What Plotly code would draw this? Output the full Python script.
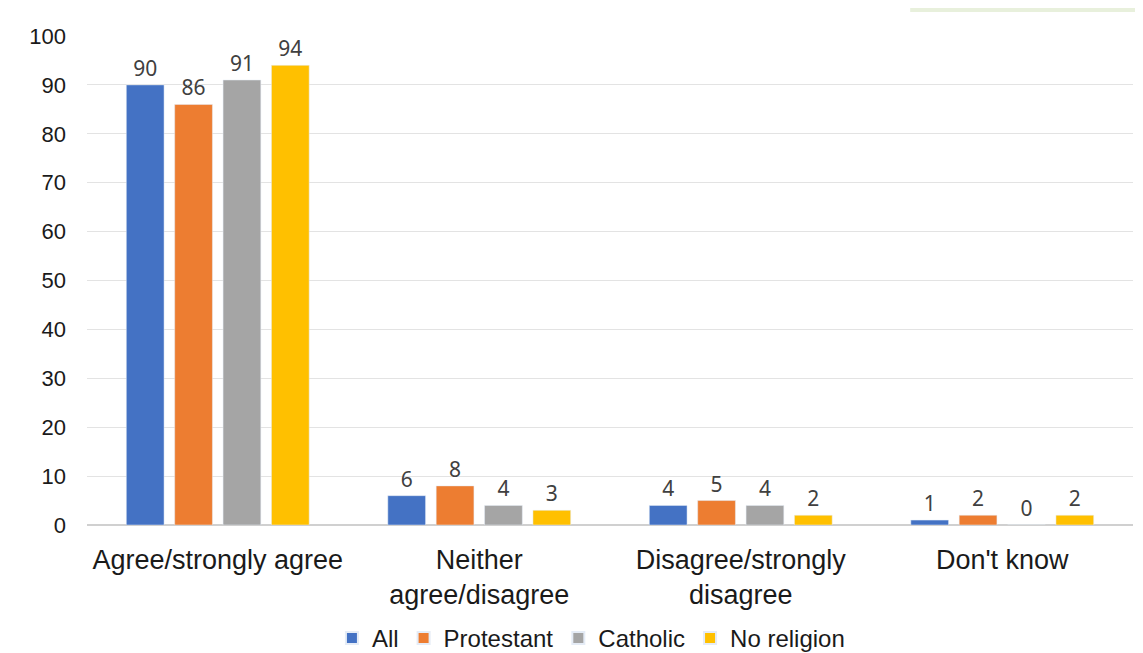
import plotly.graph_objects as go

categories = ["Agree/strongly agree", "Neither<br>agree/disagree",
              "Disagree/strongly<br>disagree", "Don't know"]
series_names = ["All", "Protestant", "Catholic", "No religion"]
all_vals = [90, 6, 4, 1]
protestant_vals = [86, 8, 5, 2]
catholic_vals = [91, 4, 4, 0]
no_religion_vals = [94, 3, 2, 2]
y_ticks = [0, 10, 20, 30, 40, 50, 60, 70, 80, 90, 100]

colors = ["#4472C4", "#ED7D31", "#A5A5A5", "#FFC000"]
values = [all_vals, protestant_vals, catholic_vals, no_religion_vals]

fig = go.Figure()
for name, vals, col in zip(series_names, values, colors):
    fig.add_trace(go.Bar(
        x=categories, y=vals, name=name, marker_color=col,
        text=[str(v) for v in vals], textposition="outside",
        textfont=dict(family="Noto Sans", size=21, color="#404040"),
        cliponaxis=False,
    ))

# page body adds 8px offset, so margins are a bit smaller than the picture suggests
fig.update_layout(
    width=1143, height=653,
    margin=dict(l=79, r=18, t=28, b=136, autoexpand=False),
    paper_bgcolor="white", plot_bgcolor="white",
    barmode="group", bargap=0.26, bargroupgap=0.22,
    font=dict(family="Liberation Sans", color="#1a1a1a"),
    legend=dict(orientation="h", x=0.51, xanchor="center", xref="container",
                y=-0.005, yanchor="bottom", yref="container",
                font=dict(size=24), itemsizing="constant", traceorder="normal",
                itemwidth=30, tracegroupgap=0),
    # green box peeking in at the top right
    shapes=[dict(type="rect", xref="paper", yref="paper", x0=0.787, x1=1.03,
                 y0=1.049, y1=1.2, fillcolor="#E8F0DC", line_width=0, layer="below")],
)
fig.update_xaxes(tickfont=dict(size=27), showline=False, ticks="", automargin=False,
                 ticklabelstandoff=16)
fig.update_yaxes(range=[0, 100], tickvals=y_ticks, tickfont=dict(size=22),
                 gridcolor="#e3e3e3", zeroline=True, zerolinecolor="#d0d0d0",
                 ticklabelstandoff=20, automargin=False)

fig.write_html("out.html")
